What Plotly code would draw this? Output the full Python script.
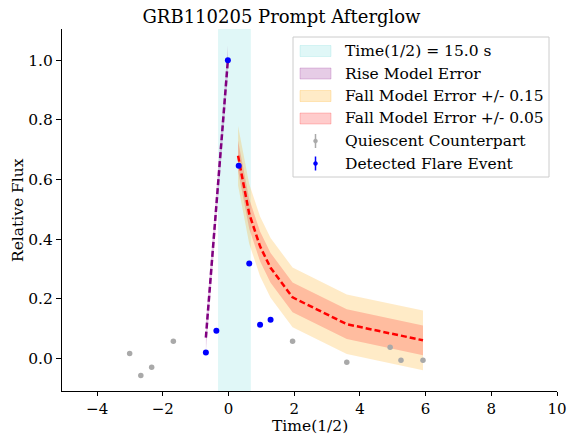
import plotly.graph_objects as go

# ---------------- data ----------------
quiet_x = [-3.01, -2.67, -2.34, -1.68, 1.95, 3.60, 4.92, 5.25, 5.92]
quiet_y = [0.017, -0.057, -0.029, 0.058, 0.058, -0.013, 0.038, -0.006, -0.006]
quiet_err = [0.004, 0.004, 0.004, 0.004, 0.004, 0.004, 0.004, 0.004, 0.004]

flare_x = [-0.69, -0.37, -0.02, 0.31, 0.63, 0.96, 1.28]
flare_y = [0.020, 0.093, 1.000, 0.646, 0.319, 0.113, 0.130]
flare_err = [0.005, 0.005, 0.005, 0.005, 0.005, 0.005, 0.005]

rise_x = [-0.69, -0.02]
rise_y = [0.07, 1.00]
rise_err = 0.05

fall_x = [0.29, 0.63, 0.96, 1.28, 1.95, 3.60, 5.92]
fall_y = [0.68, 0.485, 0.376, 0.304, 0.205, 0.115, 0.061]
fall_err_outer = 0.10
fall_err_inner = 0.05

half_span = [-0.32, 0.68]

x_ticks = [-4, -2, 0, 2, 4, 6, 8, 10]
y_ticks = [0.0, 0.2, 0.4, 0.6, 0.8, 1.0]

legend_labels = ["Time(1/2) = 15.0 s", "Rise Model Error", "Fall Model Error +/- 0.15",
                 "Fall Model Error +/- 0.05", "Quiescent Counterpart", "Detected Flare Event"]

# ---------------- figure ----------------
W, H = 568, 434
L, R, T, B = 62, 11, 29, 43
FONT = "DejaVu Serif"
TICK_SIZE = 15.5

PURPLE = "rgb(128,0,128)"
PURPLE_F = "rgba(128,0,128,0.2)"
ORANGE_F = "rgba(255,165,0,0.22)"
RED_F = "rgba(255,0,0,0.2)"
CYAN_F = "rgba(0,190,190,0.12)"
GRAY = "rgb(169,169,169)"
BLUE = "rgb(0,0,255)"

fig = go.Figure()

def band(xs, ys, err, color):
    up = [y + err for y in ys]
    lo = [y - err for y in ys]
    return go.Scatter(x=list(xs) + list(xs)[::-1], y=up + lo[::-1], fill="toself",
                      fillcolor=color, mode="lines", line=dict(width=0, color=color),
                      hoverinfo="skip", showlegend=False)

fig.add_trace(band(rise_x, rise_y, rise_err, PURPLE_F))
fig.add_trace(band(fall_x, fall_y, fall_err_outer, ORANGE_F))
fig.add_trace(band(fall_x, fall_y, fall_err_inner, RED_F))

fig.add_trace(go.Scatter(x=rise_x, y=rise_y, mode="lines",
                         line=dict(color=PURPLE, width=2.5, dash="6px,3px"), showlegend=False))
fig.add_trace(go.Scatter(x=fall_x, y=fall_y, mode="lines",
                         line=dict(color="red", width=2.5, dash="6px,3px"), showlegend=False))

fig.add_trace(go.Scatter(x=quiet_x, y=quiet_y, mode="markers",
                         marker=dict(color=GRAY, size=5.5),
                         error_y=dict(type="data", array=quiet_err, color=GRAY, thickness=1.5, width=0),
                         showlegend=False))
fig.add_trace(go.Scatter(x=flare_x, y=flare_y, mode="markers",
                         marker=dict(color=BLUE, size=6),
                         error_y=dict(type="data", array=flare_err, color=BLUE, thickness=1.5, width=0),
                         showlegend=False))

shapes = []
# half-time span
shapes.append(dict(type="rect", xref="x", yref="paper", x0=half_span[0], x1=half_span[1],
                   y0=0, y1=1, fillcolor=CYAN_F, line=dict(width=0), layer="below"))

# ---------------- manual legend (pixel layout -> paper) ----------------
pw, ph = W - L - R, H - T - B
def px(x):
    return (x - L) / pw
def py(y):
    return (H - B - y) / ph

shapes.append(dict(type="rect", xref="paper", yref="paper", x0=px(293), x1=px(549),
                   y0=py(177), y1=py(37), fillcolor="rgba(255,255,255,0.85)",
                   line=dict(color="rgb(204,204,204)", width=1), layer="above"))
row0, step = 51, 22.5
sw_colors = [CYAN_F, PURPLE_F, ORANGE_F, RED_F]
annotations = []
for i, lab in enumerate(legend_labels):
    yc = row0 + i * step
    if i < 4:
        shapes.append(dict(type="rect", xref="paper", yref="paper", x0=px(300), x1=px(331),
                           y0=py(yc + 5.5), y1=py(yc - 5.5), fillcolor=sw_colors[i],
                           line=dict(width=1, color=sw_colors[i]), layer="above"))
    else:
        c = GRAY if i == 4 else BLUE
        shapes.append(dict(type="line", xref="paper", yref="paper", x0=px(315.5), x1=px(315.5),
                           y0=py(yc + 7), y1=py(yc - 7), line=dict(color=c, width=1.5), layer="above"))
        shapes.append(dict(type="circle", xref="paper", yref="paper", x0=px(313.5), x1=px(317.5),
                           y0=py(yc + 2), y1=py(yc - 2), fillcolor=c, line=dict(color=c, width=0.5),
                           layer="above"))
    annotations.append(dict(text=lab, xref="paper", yref="paper", x=px(343), y=py(yc),
                            xanchor="left", yanchor="middle", showarrow=False,
                            font=dict(family=FONT, size=15.5, color="black")))

# axis titles
annotations.append(dict(text="Time(1/2)", xref="paper", yref="paper", x=0.5, y=py(426),
                        xanchor="center", yanchor="middle", showarrow=False,
                        font=dict(family=FONT, size=TICK_SIZE, color="black")))
annotations.append(dict(text="Relative Flux", xref="paper", yref="paper", x=px(18), y=0.5,
                        xanchor="center", yanchor="middle", showarrow=False, textangle=-90,
                        font=dict(family=FONT, size=TICK_SIZE, color="black")))

fig.update_layout(
    width=W, height=H,
    margin=dict(l=L, r=R, t=T, b=B, pad=0, autoexpand=False),
    paper_bgcolor="white", plot_bgcolor="white",
    font=dict(family=FONT, size=TICK_SIZE, color="black"),
    title=dict(text="GRB110205 Prompt Afterglow", x=281.5 / W, xanchor="center",
               xref="container", yref="container", y=1 - 17 / H, yanchor="middle",
               font=dict(family=FONT, size=18, color="black")),
    shapes=shapes, annotations=annotations, showlegend=False,
)
fig.update_xaxes(range=[-5.07, 10], tickvals=x_ticks, ticktext=[str(v).replace("-", "\u2212") for v in x_ticks],
                 showgrid=False, zeroline=False, showline=True, linecolor="black", linewidth=1,
                 ticks="outside", ticklen=4, tickwidth=1, tickcolor="black", automargin=False,
                 tickfont=dict(family=FONT, size=15))
fig.update_yaxes(range=[-0.109, 1.105], tickvals=y_ticks, ticktext=[f"{v:.1f}" for v in y_ticks],
                 showgrid=False, zeroline=False, showline=True, linecolor="black", linewidth=1,
                 ticks="outside", ticklen=5, tickwidth=1, tickcolor="black", automargin=False,
                 tickfont=dict(family=FONT, size=TICK_SIZE))

fig.write_html("out.html", config={"displayModeBar": False},
               post_script="document.body.style.margin='0px';document.body.style.overflow='hidden';")
